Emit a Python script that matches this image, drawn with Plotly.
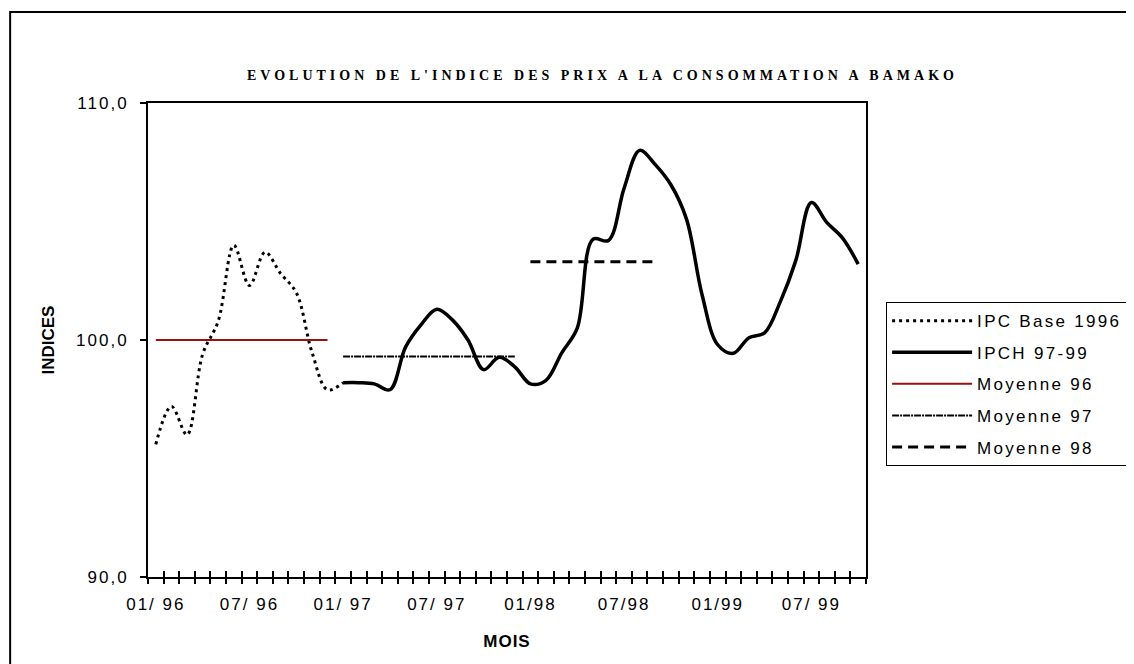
import plotly.graph_objects as go

# ---- data ----
months = ["01/96", "02/96", "03/96", "04/96", "05/96", "06/96", "07/96", "08/96", "09/96", "10/96", "11/96", "12/96",
          "01/97", "02/97", "03/97", "04/97", "05/97", "06/97", "07/97", "08/97", "09/97", "10/97", "11/97", "12/97",
          "01/98", "02/98", "03/98", "04/98", "05/98", "06/98", "07/98", "08/98", "09/98", "10/98", "11/98", "12/98",
          "01/99", "02/99", "03/99", "04/99", "05/99", "06/99", "07/99", "08/99", "09/99", "10/99"]
tick_labels = ["01/ 96", "07/ 96", "01/ 97", "07/ 97", "01/98", "07/98", "01/99", "07/ 99"]
tick_months = ["01/96", "07/96", "01/97", "07/97", "01/98", "07/98", "01/99", "07/99"]

ipc_base_1996 = [95.6, 97.2, 96.0, 99.4, 100.8, 104.0, 102.3, 103.7, 102.8, 102.0, 99.5, 97.9, 98.2]
ipch_97_99 = [98.2, 98.2, 98.15, 97.9, 99.7, 100.65, 101.3, 100.85, 100.0, 98.75, 99.27, 98.87,
              98.15, 98.3, 99.45, 100.5, 104.25, 104.2, 106.4, 108.0, 107.4, 106.55, 105.1, 101.9,
              99.8, 99.44, 100.1, 100.3, 101.6, 103.35, 105.8, 104.95, 104.3, 103.2]
moyenne_96 = [100.0] * 12
moyenne_97 = [99.3] * 12
moyenne_98 = [103.3] * 9

series_start = {"ipc": "01/96", "ipch": "01/97", "m96": "01/96", "m97": "01/97", "m98": "01/98"}

idx = {m: i for i, m in enumerate(months)}


def xs(start, n):
    s = idx[start]
    return list(range(s, s + n))


SANS = "Liberation Sans, Arial, sans-serif"
SERIF = "Liberation Serif, Times New Roman, serif"


def sp(t, px=1.5):
    return f'<span style="letter-spacing:{px}px">{t}</span>'


LS = 2.3
fig = go.Figure()
fig.add_trace(go.Scatter(x=xs(series_start["ipc"], len(ipc_base_1996)), y=ipc_base_1996, mode="lines",
                         name=sp("IPC Base 1996", LS), legendgroup="a",
                         line=dict(color="black", width=3, dash="3px,4px", shape="spline", smoothing=1)))
fig.add_trace(go.Scatter(x=xs(series_start["ipch"], len(ipch_97_99)), y=ipch_97_99, mode="lines",
                         name=sp("IPCH 97-99", LS), legendgroup="b",
                         line=dict(color="black", width=3.5, shape="spline", smoothing=1)))
fig.add_trace(go.Scatter(x=xs(series_start["m96"], len(moyenne_96)), y=moyenne_96, mode="lines",
                         name=sp("Moyenne 96", LS), legendgroup="c",
                         line=dict(color="#9a0f0f", width=2)))
fig.add_trace(go.Scatter(x=xs(series_start["m97"], len(moyenne_97)), y=moyenne_97, mode="lines",
                         name=sp("Moyenne 97", LS), legendgroup="d",
                         line=dict(color="black", width=2, dash="7px,1px,2px,1px")))
fig.add_trace(go.Scatter(x=xs(series_start["m98"], len(moyenne_98)), y=moyenne_98, mode="lines",
                         name=sp("Moyenne 98", LS), legendgroup="e",
                         line=dict(color="black", width=3, dash="10px,6px")))

n = len(months)
xrange = [-0.5, n - 0.5]
bounds = [i - 0.5 for i in range(n + 1)]

# the page body adds an 8px offset; margins compensate for it
fig.update_layout(
    width=1134, height=664,
    paper_bgcolor="white", plot_bgcolor="white",
    margin=dict(l=140, r=276, t=95, b=95),
    separators=", ",
    font=dict(family=SANS, size=17, color="black"),
    showlegend=True,
    legend=dict(x=1.028, y=0.580, xanchor="left", yanchor="top",
                bgcolor="white", bordercolor="black", borderwidth=1,
                font=dict(family=SANS, size=17, color="black"),
                tracegroupgap=6.5, itemwidth=80, traceorder="grouped"),
    xaxis=dict(range=xrange, tickmode="array",
               tickvals=[idx[m] for m in tick_months],
               ticktext=[sp(t, 2) for t in tick_labels],
               ticks="", showgrid=False, zeroline=False,
               showline=True, linecolor="black", linewidth=2, mirror=True,
               ticklabelstandoff=11,
               tickfont=dict(family=SANS, size=17),
               title=dict(text="<b>" + sp("MOIS", 1) + "</b>", font=dict(family=SANS, size=17), standoff=22)),
    xaxis2=dict(range=xrange, overlaying="x", anchor="y", side="bottom", tickmode="array",
                tickvals=bounds, ticks="outside", ticklen=6, tickwidth=2, tickcolor="black",
                showticklabels=False, showgrid=False, zeroline=False, showline=False),
    xaxis3=dict(range=xrange, overlaying="x", anchor="y", side="bottom", tickmode="array",
                tickvals=bounds, ticks="inside", ticklen=6, tickwidth=2, tickcolor="black",
                showticklabels=False, showgrid=False, zeroline=False, showline=False),
    yaxis=dict(range=[90, 110], tickmode="array", tickvals=[90, 100, 110],
               ticktext=[sp("90,0", 2), sp("100,0", 2), sp("110,0", 2)],
               ticks="outside", ticklen=6, tickwidth=2, tickcolor="black",
               showgrid=False, zeroline=False,
               showline=True, linecolor="black", linewidth=2, mirror=True,
               ticklabelstandoff=8,
               tickfont=dict(family=SANS, size=17),
               title=dict(text="<b>INDICES</b>", font=dict(family=SANS, size=17), standoff=17)),
)

# invisible traces so overlay axes render
fig.add_trace(go.Scatter(x=[None], y=[None], xaxis="x2", showlegend=False, hoverinfo="skip"))
fig.add_trace(go.Scatter(x=[None], y=[None], xaxis="x3", showlegend=False, hoverinfo="skip"))

fig.add_annotation(text="<b>" + sp("EVOLUTION DE L'INDICE DES PRIX A LA CONSOMMATION A BAMAKO", 4) + "</b>",
                   xref="paper", yref="paper", x=0.633, y=1.059, xanchor="center", yanchor="middle",
                   showarrow=False, font=dict(family=SERIF, size=14, color="black"))

# outer chart border (extends beyond the picture on the right and bottom)
fig.add_shape(type="rect", xref="paper", yref="paper", x0=-0.192, x1=1.6, y0=-0.3, y1=1.192,
              line=dict(color="black", width=2), fillcolor="rgba(0,0,0,0)", layer="below")

fig.write_html("out.html")
